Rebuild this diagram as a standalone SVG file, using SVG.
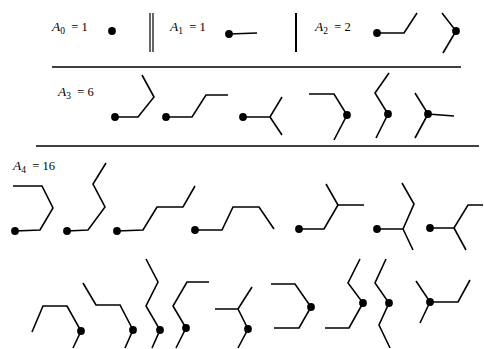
<svg xmlns="http://www.w3.org/2000/svg" width="484" height="349" viewBox="0 0 484 349">
<style>
.b{fill:none;stroke:#000;stroke-width:1.6;stroke-linejoin:miter;stroke-linecap:butt}
.d{fill:#000}
.r{stroke:#000;fill:none}
.t{font-family:"Liberation Serif",serif;font-size:12.5px;fill:#000}
.a{font-style:italic;font-size:13.5px}
.s{font-size:9.5px}
</style>
<rect width="484" height="349" fill="#fff"/>
<g id="rules">
<line class="r" x1="150" y1="13" x2="150" y2="52" stroke-width="1.2"/>
<line class="r" x1="153" y1="13" x2="153" y2="52" stroke-width="1.2"/>
<line class="r" x1="296" y1="13" x2="296" y2="52" stroke-width="2"/>
<line class="r" x1="52" y1="67" x2="461" y2="67" stroke-width="1.6"/>
<line class="r" x1="36" y1="146" x2="479" y2="146" stroke-width="1.6"/>
</g>
<g id="labels">
<text class="t" x="52" y="31"><tspan class="a">A</tspan><tspan class="s" dy="3">0</tspan><tspan dy="-3" xml:space="preserve">  = 1</tspan></text>
<text class="t" x="170" y="31"><tspan class="a">A</tspan><tspan class="s" dy="3">1</tspan><tspan dy="-3" xml:space="preserve">  = 1</tspan></text>
<text class="t" x="315" y="31"><tspan class="a">A</tspan><tspan class="s" dy="3">2</tspan><tspan dy="-3" xml:space="preserve">  = 2</tspan></text>
<text class="t" x="58" y="96"><tspan class="a">A</tspan><tspan class="s" dy="3">3</tspan><tspan dy="-3" xml:space="preserve">  = 6</tspan></text>
<text class="t" x="13" y="170"><tspan class="a">A</tspan><tspan class="s" dy="3">4</tspan><tspan dy="-3" xml:space="preserve">  = 16</tspan></text>
</g>
<g id="n0"><circle class="d" cx="112" cy="31" r="3.9"/></g>
<g id="n1"><path class="b" d="M229,34 L257,33"/><circle class="d" cx="229" cy="34" r="3.9"/></g>
<g id="n2a"><path class="b" d="M377,33 L404,33 L417,13"/><circle class="d" cx="377" cy="33" r="3.9"/></g>
<g id="n2b"><path class="b" d="M442,13 L456,31 L443,53"/><circle class="d" cx="456" cy="31" r="3.9"/></g>
<g id="n3a"><path class="b" d="M115,117 L138,117 L154,97 L142,75"/><circle class="d" cx="115" cy="117" r="3.9"/></g>
<g id="n3b"><path class="b" d="M166,117 L192,117 L206,95 L228,95"/><circle class="d" cx="166" cy="117" r="3.9"/></g>
<g id="n3c"><path class="b" d="M243,117 L270,117 L282,97 M270,117 L282,135"/><circle class="d" cx="243" cy="117" r="3.9"/></g>
<g id="n3d"><path class="b" d="M309,94 L334,94 L347,115 L334,140"/><circle class="d" cx="347" cy="115" r="3.9"/></g>
<g id="n3e"><path class="b" d="M389,73 L375,93 L388,114 L376,138"/><circle class="d" cx="388" cy="114" r="3.9"/></g>
<g id="n3f"><path class="b" d="M415,93 L428,114 L454,116 M428,114 L415,138"/><circle class="d" cx="428" cy="114" r="3.9"/></g>
<g id="n4a"><path class="b" d="M13,186 L42,186 L53,208 L40,230 L15,231"/><circle class="d" cx="15" cy="231" r="3.9"/></g>
<g id="n4b"><path class="b" d="M67,231 L88,230 L105,207 L93,184 L106,163"/><circle class="d" cx="67" cy="231" r="3.9"/></g>
<g id="n4c"><path class="b" d="M117,231 L143,230 L157,207 L183,207 L195,186"/><circle class="d" cx="117" cy="231" r="3.9"/></g>
<g id="n4d"><path class="b" d="M195,230 L222,230 L233,207 L259,207 L274,229"/><circle class="d" cx="195" cy="230" r="3.9"/></g>
<g id="n4e"><path class="b" d="M299,229 L324,229 L338,205 L326,184 M338,205 L364,205"/><circle class="d" cx="299" cy="229" r="3.9"/></g>
<g id="n4f"><path class="b" d="M377,229 L403,229 L414,204 L402,183 M403,229 L413,250"/><circle class="d" cx="377" cy="229" r="3.9"/></g>
<g id="n4g"><path class="b" d="M430,228 L454,228 L468,205 L483,205 M454,228 L466,250"/><circle class="d" cx="430" cy="228" r="3.9"/></g>
<g id="n4h"><path class="b" d="M32,332 L43,306 L67,306 L81,331 L73,348"/><circle class="d" cx="81" cy="331" r="3.9"/></g>
<g id="n4i"><path class="b" d="M83,283 L96,305 L120,305 L133,330 L125,348"/><circle class="d" cx="133" cy="330" r="3.9"/></g>
<g id="n4j"><path class="b" d="M146,259 L158,282 L146,306 L160,330 L152,348"/><circle class="d" cx="160" cy="330" r="3.9"/></g>
<g id="n4k"><path class="b" d="M209,282 L187,282 L173,306 L186,328 L176,348"/><circle class="d" cx="186" cy="328" r="3.9"/></g>
<g id="n4l"><path class="b" d="M215,309 L238,309 L252,287 M238,309 L248,329 L238,348"/><circle class="d" cx="248" cy="329" r="3.9"/></g>
<g id="n4m"><path class="b" d="M271,284 L295,284 L311,307 L299,328 L274,328"/><circle class="d" cx="311" cy="307" r="3.9"/></g>
<g id="n4n"><path class="b" d="M360,259 L348,283 L363,303 L349,328 L325,328"/><circle class="d" cx="363" cy="303" r="3.9"/></g>
<g id="n4o"><path class="b" d="M386,259 L375,283 L389,303 L379,325 L390,348"/><circle class="d" cx="389" cy="303" r="3.9"/></g>
<g id="n4p"><path class="b" d="M416,281 L430,302 L458,302 L470,280 M430,302 L420,323"/><circle class="d" cx="430" cy="302" r="3.9"/></g>
</svg>
